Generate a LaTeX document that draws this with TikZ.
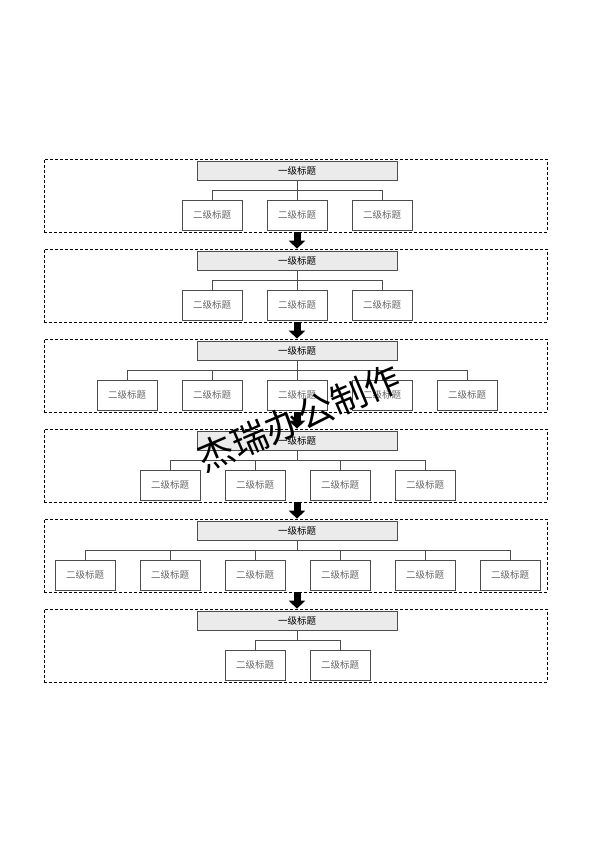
\documentclass[tikz,border=0pt]{standalone}
\usepackage{fontspec}
\setmainfont{Noto Sans CJK SC}
\usetikzlibrary{arrows.meta,positioning,calc}

\begin{document}
\begin{tikzpicture}[x=1pt, y=-1pt, >=Stealth,
  frame/.style={rectangle, draw, dash pattern=on 3pt off 2pt, line width=0.7pt, minimum width=503pt, minimum height=73pt, inner sep=0pt},
  toptitle/.style={rectangle, draw=black!70, fill=black!8, line width=0.8pt, minimum width=200pt, minimum height=19pt, inner sep=0pt, font=\fontsize{9.5}{10}\selectfont},
  subtitle/.style={rectangle, draw=black!70, fill=white, line width=0.8pt, minimum width=60pt, minimum height=30pt, inner sep=0pt, text=black!60, font=\fontsize{9.5}{10}\selectfont},
  link/.style={draw=black!70, line width=0.7pt},
  stepdown/.style={line width=7pt, -{Triangle[length=8pt, width=16pt]}}
  ]
\useasboundingbox (0,0) rectangle (594,841);

% Panel 1
\node[frame] (p1) at (295.5,195.5) {};
\node[toptitle] (t1) at (297,170.5) {一级标题};
\node[subtitle] (b11) at (212,215) {二级标题};
\node[subtitle] (b12) at (297,215) {二级标题};
\node[subtitle] (b13) at (382,215) {二级标题};
\coordinate (j1) at (297,190);
\draw[link] (t1.south) -- (b12.north);
\draw[link] (b11.north) -- (b11.north |- j1) -- (b13.north |- j1) -- (b13.north);

% Panel 2
\node[frame] (p2) at (295.5,285.5) {};
\node[toptitle] (t2) at (297,260.5) {一级标题};
\node[subtitle] (b21) at (212,305) {二级标题};
\node[subtitle] (b22) at (297,305) {二级标题};
\node[subtitle] (b23) at (382,305) {二级标题};
\coordinate (j2) at (297,280);
\draw[link] (t2.south) -- (b22.north);
\draw[link] (b21.north) -- (b21.north |- j2) -- (b23.north |- j2) -- (b23.north);

% Panel 3
\node[frame] (p3) at (295.5,375.5) {};
\node[toptitle] (t3) at (297,350.5) {一级标题};
\node[subtitle] (b31) at (127,395) {二级标题};
\node[subtitle] (b32) at (212,395) {二级标题};
\node[subtitle] (b33) at (297,395) {二级标题};
\node[subtitle] (b34) at (382,395) {二级标题};
\node[subtitle] (b35) at (467,395) {二级标题};
\coordinate (j3) at (297,370);
\draw[link] (t3.south) -- (b33.north);
\draw[link] (b31.north) -- (b31.north |- j3) -- (b35.north |- j3) -- (b35.north);
\draw[link] (b32.north) -- (b32.north |- j3);
\draw[link] (b34.north) -- (b34.north |- j3);

% Panel 4
\node[frame] (p4) at (295.5,465.5) {};
\node[toptitle] (t4) at (297,440.5) {一级标题};
\node[subtitle] (b41) at (170,485) {二级标题};
\node[subtitle] (b42) at (255,485) {二级标题};
\node[subtitle] (b43) at (340,485) {二级标题};
\node[subtitle] (b44) at (425,485) {二级标题};
\coordinate (j4) at (297,460);
\draw[link] (t4.south) -- (j4);
\draw[link] (b41.north) -- (b41.north |- j4) -- (b44.north |- j4) -- (b44.north);
\draw[link] (b42.north) -- (b42.north |- j4);
\draw[link] (b43.north) -- (b43.north |- j4);

% Panel 5
\node[frame] (p5) at (295.5,555.5) {};
\node[toptitle] (t5) at (297,530.5) {一级标题};
\node[subtitle] (b51) at (85,575) {二级标题};
\node[subtitle] (b52) at (170,575) {二级标题};
\node[subtitle] (b53) at (255,575) {二级标题};
\node[subtitle] (b54) at (340,575) {二级标题};
\node[subtitle] (b55) at (425,575) {二级标题};
\node[subtitle] (b56) at (510,575) {二级标题};
\coordinate (j5) at (297,550);
\draw[link] (t5.south) -- (j5);
\draw[link] (b51.north) -- (b51.north |- j5) -- (b56.north |- j5) -- (b56.north);
\draw[link] (b52.north) -- (b52.north |- j5);
\draw[link] (b53.north) -- (b53.north |- j5);
\draw[link] (b54.north) -- (b54.north |- j5);
\draw[link] (b55.north) -- (b55.north |- j5);

% Panel 6
\node[frame] (p6) at (295.5,645.5) {};
\node[toptitle] (t6) at (297,620.5) {一级标题};
\node[subtitle] (b61) at (255,665) {二级标题};
\node[subtitle] (b62) at (340,665) {二级标题};
\coordinate (j6) at (297,640);
\draw[link] (t6.south) -- (j6);
\draw[link] (b61.north) -- (b61.north |- j6) -- (b62.north |- j6) -- (b62.north);

% Arrows between panels
\draw[stepdown] (p1.south -| t1) -- (p2.north -| t2);
\draw[stepdown] (p2.south -| t2) -- (p3.north -| t3);
\draw[stepdown] (p3.south -| t3) -- (p4.north -| t4);
\draw[stepdown] (p4.south -| t4) -- (p5.north -| t5);
\draw[stepdown] (p5.south -| t5) -- (p6.north -| t6);

% Watermark
\node[rotate=23, font=\fontsize{36}{38}\selectfont] (mark) at (299,418) {杰瑞办公制作};

\end{tikzpicture}
\end{document}
